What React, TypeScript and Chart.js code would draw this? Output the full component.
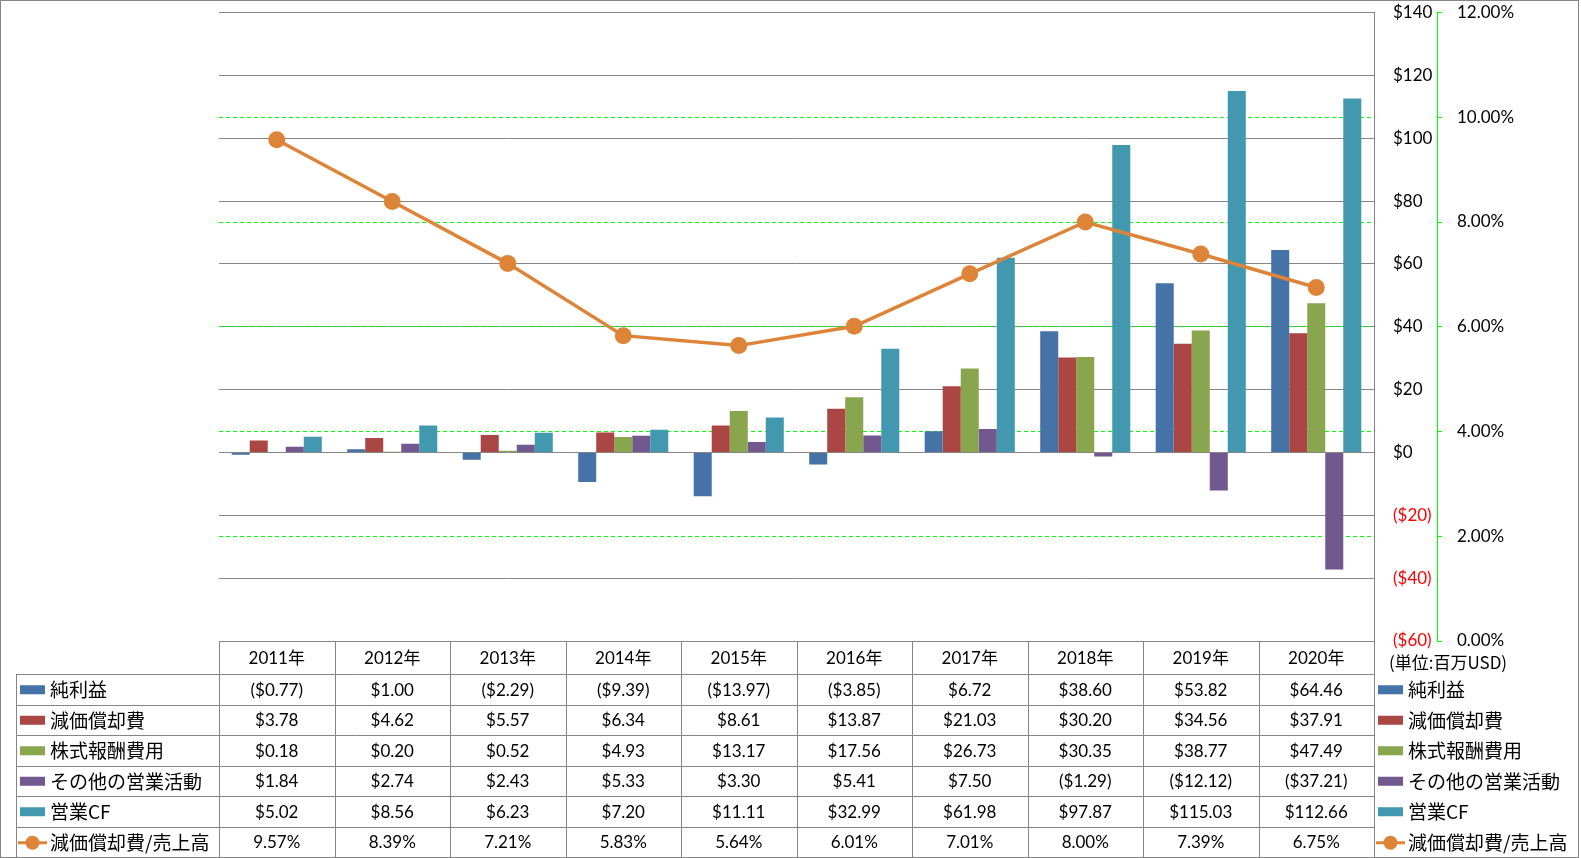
import React, { useEffect, useRef } from 'react';
import { Chart, registerables } from 'chart.js';

Chart.register(...registerables);

const years = ['2011年', '2012年', '2013年', '2014年', '2015年', '2016年', '2017年', '2018年', '2019年', '2020年'];
const netIncome = [-0.77, 1.0, -2.29, -9.39, -13.97, -3.85, 6.72, 38.6, 53.82, 64.46];
const depreciation = [3.78, 4.62, 5.57, 6.34, 8.61, 13.87, 21.03, 30.2, 34.56, 37.91];
const stockComp = [0.18, 0.2, 0.52, 4.93, 13.17, 17.56, 26.73, 30.35, 38.77, 47.49];
const otherOps = [1.84, 2.74, 2.43, 5.33, 3.3, 5.41, 7.5, -1.29, -12.12, -37.21];
const operatingCF = [5.02, 8.56, 6.23, 7.2, 11.11, 32.99, 61.98, 97.87, 115.03, 112.66];
const depRatio = [9.57, 8.39, 7.21, 5.83, 5.64, 6.01, 7.01, 8.0, 7.39, 6.75];

const seriesNames = ['純利益', '減価償却費', '株式報酬費用', 'その他の営業活動', '営業CF', '減価償却費/売上高'];
const seriesColors = ['#4572A7', '#AA4643', '#89A54E', '#71588F', '#4198AF', '#DE8439'];

const usdMin = -60;
const usdMax = 140;
const usdStep = 20;
const pctMin = 0;
const pctMax = 12;
const pctStep = 2;
const unitLabel = '(単位:百万USD)';

const barSeries = [netIncome, depreciation, stockComp, otherOps, operatingCF];

const fmtUsd = (v: number) => (v < 0 ? `($${Math.abs(v).toFixed(2)})` : `$${v.toFixed(2)}`);
const fmtPct = (v: number) => `${v.toFixed(2)}%`;

const GRID = '#868686';
const GREEN = '#00FF00';
const NUM_FONT = '17px Lato, "Noto Sans CJK JP"';
const JP_FONT = '19px "Noto Sans CJK JP"';

const tablePlugin = {
  id: 'dataTable',
  afterDraw(chart: any) {
    const ctx = chart.ctx as CanvasRenderingContext2D;
    const { left, right, bottom } = chart.chartArea;
    const n = years.length;
    const colW = (right - left) / n;
    const headerBottom = 674;
    const rowH = 30.5;
    const tableBottom = headerBottom + rowH * 6;
    const legendLeft = 16;
    const px = (v: number) => Math.round(v) + 0.5;

    ctx.save();
    ctx.strokeStyle = GRID;
    ctx.lineWidth = 1;
    ctx.beginPath();
    for (let i = 0; i <= n; i++) {
      const x = px(left + i * colW);
      ctx.moveTo(x, bottom);
      ctx.lineTo(x, tableBottom);
    }
    for (let r = 0; r <= 6; r++) {
      const y = px(headerBottom + r * rowH);
      ctx.moveTo(legendLeft, y);
      ctx.lineTo(px(right), y);
    }
    ctx.moveTo(legendLeft + 0.5, px(headerBottom));
    ctx.lineTo(legendLeft + 0.5, tableBottom);
    ctx.stroke();

    ctx.fillStyle = '#000';
    ctx.textAlign = 'center';
    ctx.textBaseline = 'middle';
    ctx.font = NUM_FONT;
    years.forEach((yr, i) => {
      ctx.fillText(yr, left + (i + 0.5) * colW, (bottom + headerBottom) / 2 + 1);
    });

    const rows: number[][] = [...barSeries, depRatio];
    rows.forEach((vals, r) => {
      const cy = headerBottom + (r + 0.5) * rowH + 1;
      ctx.font = NUM_FONT;
      ctx.textAlign = 'center';
      ctx.fillStyle = '#000';
      vals.forEach((v, i) => {
        ctx.fillText(r === 5 ? fmtPct(v) : fmtUsd(v), left + (i + 0.5) * colW, cy);
      });
      [20, 1378].forEach((kx) => {
        const col = seriesColors[r];
        if (r < 5) {
          ctx.fillStyle = col;
          ctx.fillRect(kx, cy - 5, 25, 9);
        } else {
          ctx.strokeStyle = col;
          ctx.lineWidth = 3;
          ctx.beginPath();
          ctx.moveTo(kx - 2, cy);
          ctx.lineTo(kx + 27, cy);
          ctx.stroke();
          ctx.fillStyle = col;
          ctx.beginPath();
          ctx.arc(kx + 12.5, cy, 7, 0, Math.PI * 2);
          ctx.fill();
        }
        ctx.fillStyle = '#000';
        ctx.font = JP_FONT;
        ctx.textAlign = 'left';
        ctx.fillText(seriesNames[r], kx + 30, cy);
      });
    });

    ctx.font = '17px "Noto Sans CJK JP"';
    ctx.fillStyle = '#000';
    ctx.textAlign = 'left';
    ctx.fillText(unitLabel, 1389, 663);

    ctx.strokeStyle = GRID;
    ctx.lineWidth = 1;
    ctx.strokeRect(0.5, 0.5, 1578, 857);
    ctx.restore();
  },
};

export default function App() {
  const canvasRef = useRef<HTMLCanvasElement | null>(null);

  useEffect(() => {
    document.body.style.margin = '0';
    document.body.style.overflow = 'hidden';
    const canvas = canvasRef.current;
    if (!canvas) return;
    const datasets: any[] = barSeries.map((vals, i) => ({
      type: 'bar',
      label: seriesNames[i],
      data: vals,
      backgroundColor: seriesColors[i],
      borderWidth: 0,
      yAxisID: 'y',
      order: 1,
      categoryPercentage: 0.78,
      barPercentage: 1.0,
    }));
    datasets.push({
      type: 'line',
      label: seriesNames[5],
      data: depRatio,
      borderColor: seriesColors[5],
      backgroundColor: seriesColors[5],
      borderWidth: 3.5,
      pointRadius: 8.5,
      pointBackgroundColor: seriesColors[5],
      pointBorderWidth: 0,
      yAxisID: 'y1',
      order: 0,
      tension: 0,
    });

    const chart = new Chart(canvas, {
      type: 'bar',
      data: { labels: years, datasets },
      options: {
        animation: false,
        responsive: true,
        maintainAspectRatio: false,
        layout: { padding: { left: 219, right: 44, top: 12.5, bottom: 217 } },
        plugins: { legend: { display: false }, tooltip: { enabled: false } },
        scales: {
          x: { type: 'category', display: false, offset: true, grid: { display: false } },
          y: {
            position: 'right',
            weight: 0,
            min: usdMin,
            max: usdMax,
            afterFit: (s: any) => {
              s.width = 63;
            },
            ticks: {
              stepSize: usdStep,
              padding: 0,
              font: { family: 'Lato', size: 17 },
              color: (c: any) => (c.tick && c.tick.value < 0 ? '#FF0000' : '#000000'),
              callback: (v: any) => (v < 0 ? `($${Math.abs(v)})` : `$${v}`),
            },
            grid: {
              color: GRID,
              lineWidth: 1,
              drawTicks: true,
              tickLength: 19,
              tickColor: 'rgba(0,0,0,0)',
            },
            border: { display: true, color: GRID, width: 1 },
          },
          y1: {
            position: 'right',
            weight: 1,
            min: pctMin,
            max: pctMax,
            afterFit: (s: any) => {
              s.width = 100;
            },
            ticks: {
              stepSize: pctStep,
              padding: 0,
              font: { family: 'Lato', size: 17 },
              color: '#000000',
              callback: (v: any) => fmtPct(Number(v)),
            },
            grid: {
              color: (c: any) =>
                c.tick && (c.tick.value === pctMin || c.tick.value === pctMax) ? 'rgba(0,0,0,0)' : GREEN,
              tickColor: GREEN,
              borderDash: [4, 3],
              tickBorderDash: [4, 200],
              tickLength: 20,
              lineWidth: 1,
              drawTicks: true,
            },
            border: { display: true, color: GREEN, dash: [4, 3], width: 1 },
          },
        },
      } as any,
      plugins: [tablePlugin],
    });
    return () => chart.destroy();
  }, []);

  return (
    <div style={{ position: 'absolute', left: 0, top: 0, width: 1581, height: 858 }}>
      <canvas ref={canvasRef} />
    </div>
  );
}
